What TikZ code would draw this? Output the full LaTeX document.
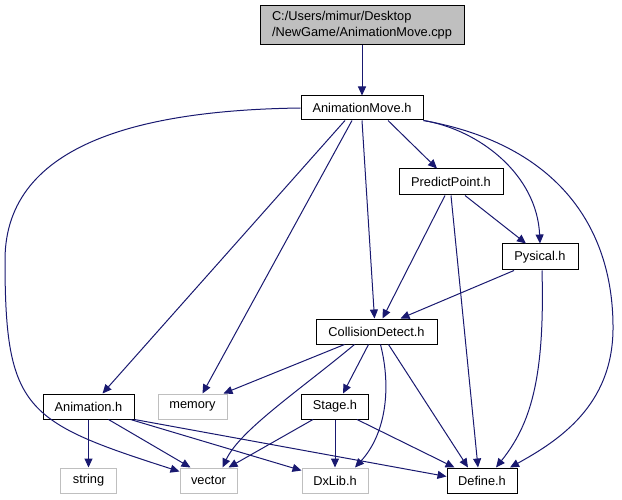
\documentclass[tikz,border=0pt]{standalone}
\usepackage{fontspec}
\setmainfont{Liberation Sans}
\usetikzlibrary{arrows.meta}
\definecolor{edgeblue}{RGB}{25,25,112}
\definecolor{sysgray}{RGB}{191,191,191}
\begin{document}
\begin{tikzpicture}[x=1pt, y=-1pt, line width=1pt,
    font=\fontsize{12.8}{16}\selectfont,
    hfile/.style={draw=black, fill=white, inner sep=0pt, minimum height=25pt},
    sysfile/.style={hfile, draw=sysgray},
    dep/.style={draw=edgeblue, -{Triangle[length=9pt,width=8pt]}}]
  \useasboundingbox (0,0) rectangle (622,500);
  % files
  \node[hfile, fill=sysgray, minimum width=204pt, minimum height=39pt, align=left] (src) at (362,25.5)
    {C:/Users/mimur/Desktop\\/NewGame/AnimationMove.cpp};
  \node[hfile, minimum width=122pt, minimum height=24pt] (amove) at (362,108) {AnimationMove.h};
  \node[hfile, minimum width=104pt, minimum height=26pt] (ppoint) at (451,182) {PredictPoint.h};
  \node[hfile, minimum width=76pt, minimum height=26pt] (pysical) at (540,257) {Pysical.h};
  \node[hfile, minimum width=121pt] (cdetect) at (376.5,331.5) {CollisionDetect.h};
  \node[hfile, minimum width=91pt] (anim) at (88.5,406.5) {Animation.h};
  \node[sysfile, minimum width=69pt] (memory) at (192.5,406.5) {memory};
  \node[hfile, minimum width=67pt] (stage) at (335,406.5) {Stage.h};
  \node[sysfile, minimum width=56pt] (string) at (88.5,480.5) {string};
  \node[sysfile, minimum width=57pt] (vector) at (208.5,480.5) {vector};
  \node[sysfile, minimum width=66pt] (dxlib) at (335,480.5) {DxLib.h};
  \node[hfile, minimum width=70pt] (define) at (482,480.5) {Define.h};
  % includes of AnimationMove.h
  \draw[dep] (src) -- (amove);
  \draw[dep] ([xshift=26pt]amove.south) -- ([xshift=-14pt]ppoint.north);
  \draw[dep] (amove.south east) .. controls (480,130) and (537,175) .. (pysical.north);
  \draw[dep] (amove.south east) .. controls (560,145) and (614,230) .. (613,330)
    .. controls (612,405) and (560,440) .. ([xshift=28pt]define.north);
  \draw[dep] (amove.west) .. controls (150,110) and (5,140) .. (5,260)
    .. controls (5,410) and (25,422) .. ([yshift=-4pt]vector.north west);
  \draw[dep] ([xshift=-17pt]amove.south) -- ([xshift=14pt]anim.north);
  \draw[dep] ([xshift=-10pt]amove.south) -- ([xshift=10pt]memory.north);
  \draw[dep] (amove.south) -- ([xshift=-2pt]cdetect.north);
  % PredictPoint.h and Pysical.h
  \draw[dep] ([xshift=-6pt]ppoint.south) -- ([xshift=6pt]cdetect.north);
  \draw[dep] ([xshift=14pt]ppoint.south) -- ([xshift=-14pt]pysical.north);
  \draw[dep] (ppoint.south) -- ([xshift=-4pt]define.north);
  \draw[dep] ([xshift=-26pt]pysical.south) -- ([xshift=24pt]cdetect.north);
  \draw[dep] ([xshift=2pt]pysical.south) .. controls (545,380) and (530,425) .. ([xshift=14pt]define.north);
  % CollisionDetect.h
  \draw[dep] ([xshift=-32pt]cdetect.south) -- ([xshift=-4pt]memory.north east);
  \draw[dep] ([xshift=-22pt]cdetect.south) .. controls (300,390) and (240,430) .. ([xshift=14pt]vector.north);
  \draw[dep] ([xshift=-8pt]cdetect.south) -- ([xshift=8pt]stage.north);
  \draw[dep] ([xshift=4pt]cdetect.south) .. controls (392,390) and (385,435) .. ([xshift=20pt]dxlib.north);
  \draw[dep] ([xshift=12pt]cdetect.south) -- ([xshift=-14pt]define.north);
  % Stage.h
  \draw[dep] ([xshift=-22pt]stage.south) -- ([xshift=20pt]vector.north);
  \draw[dep] (stage.south) -- (dxlib.north);
  \draw[dep] ([xshift=22pt]stage.south) -- ([xshift=8pt]define.north west);
  % Animation.h
  \draw[dep] (anim.south) -- (string.north);
  \draw[dep] ([xshift=20pt]anim.south) -- ([xshift=-18pt]vector.north);
  \draw[dep] ([xshift=-4pt]anim.south east) -- ([yshift=-3pt]dxlib.north west);
  \draw[dep] (anim.south east) -- ([yshift=4pt]define.west);
\end{tikzpicture}
\end{document}
